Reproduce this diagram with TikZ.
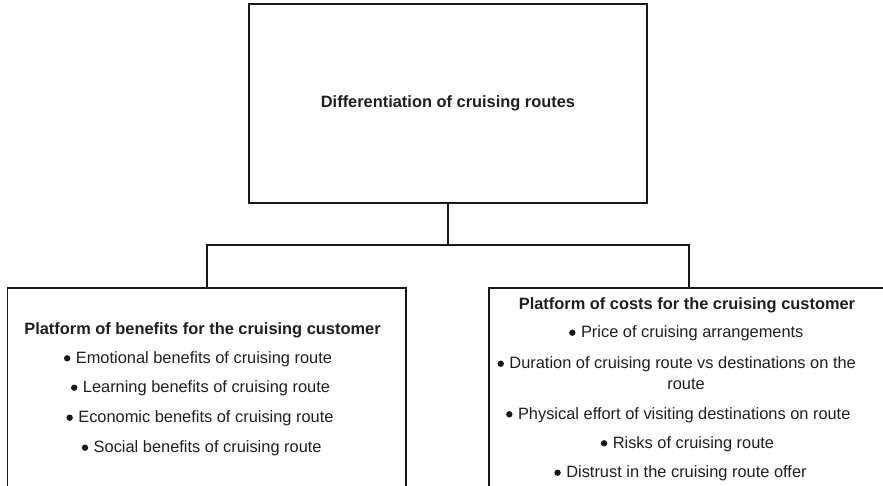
\documentclass[tikz,border=0pt]{standalone}
\usepackage{fontspec}
\setmainfont{Liberation Sans}
% round list marker followed by its gap
\newcommand{\listdot}{\tikz[x=1pt,y=1pt,baseline=0pt]\fill[black!90] (3.3,5) circle[radius=3.2];\hspace{5.5pt}}
\begin{document}
\begin{tikzpicture}[x=1pt,y=-1pt,
  box/.style={draw=black!90, line width=1.8pt, rectangle, inner sep=0pt},
  link/.style={draw=black!90, line width=1.8pt},
  txt/.style={inner sep=0pt, anchor=base, text=black!88, font=\fontsize{16.4}{20.6}\selectfont},
  head/.style={txt, font=\fontsize{16.4}{20.6}\selectfont\bfseries}]
\useasboundingbox (0,0) rectangle (883,485);
\clip (0,0) rectangle (883,485);

% top level
\node[box, minimum width=398.6pt, minimum height=198.4pt, text=black!88,
      font=\fontsize{16.4}{20.6}\selectfont\bfseries] (top) at (448,103.5)
  {Differentiation of cruising routes};

% two platforms (lower edges run past the page)
\node[box, anchor=north, minimum width=398.5pt, minimum height=230pt] (benefits) at (206.75,287.3) {};
\node[box, anchor=north, minimum width=399.5pt, minimum height=230pt] (costs) at (689,287.3) {};

% connectors
\coordinate (split) at (448,245);
\draw[link] (top.south) -- (split);
\draw[link] (benefits.north) |- (split) -| (costs.north);

% benefits list
\node[head] (bt) at (202.5,334.3) {Platform of benefits for the cruising customer};
\node[txt] (b1) at (198,363.3) {\listdot Emotional benefits of cruising route};
\node[txt] (b2) at (200.5,392.7) {\listdot Learning benefits of cruising route};
\node[txt] (b3) at (200,422.7) {\listdot Economic benefits of cruising route};
\node[txt] (b4) at (201.7,452.7) {\listdot Social benefits of cruising route};

% costs list
\node[head] (ct) at (687,309.3) {Platform of costs for the cruising customer};
\node[txt] (c1) at (686.3,337.7) {\listdot Price of cruising arrangements};
\node[txt] (c2) at (676.7,368.7) {\listdot Duration of cruising route vs destinations on the};
\node[txt] (c2b) at (686,389.3) {route};
\node[txt] (c3) at (678.3,419.3) {\listdot Physical effort of visiting destinations on route};
\node[txt] (c4) at (687.5,448.3) {\listdot Risks of cruising route};
\node[txt] (c5) at (680.5,477.7) {\listdot Distrust in the cruising route offer};
\end{tikzpicture}
\end{document}
